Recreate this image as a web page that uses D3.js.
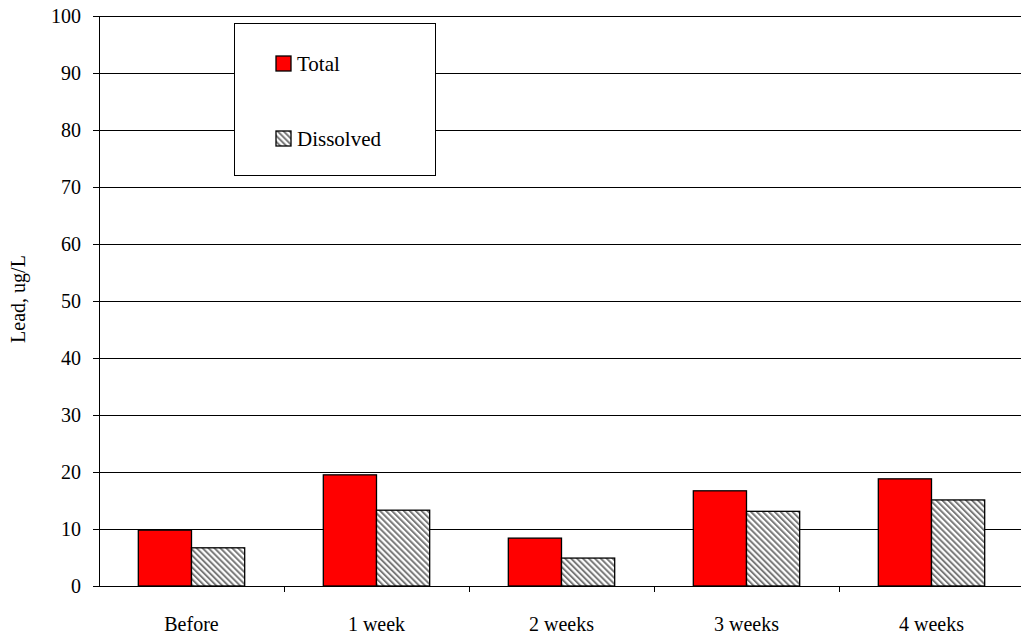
<!DOCTYPE html>
<html>
<head>
<meta charset="utf-8">
<script src="https://cdn.jsdelivr.net/npm/d3@7"></script>
</head>
<body style="margin:0">
<svg id="chart" width="1021" height="638"></svg>
<script>
// Lead sampling - total vs dissolved
const categories = ['Before', '1 week', '2 weeks', '3 weeks', '4 weeks'];
const seriesNames = ['Total', 'Dissolved'];
const totalValues = [9.8, 19.5, 8.4, 16.7, 18.8];
const dissolvedValues = [6.7, 13.3, 4.9, 13.1, 15.1];
const yTicks = [0, 10, 20, 30, 40, 50, 60, 70, 80, 90, 100];

const width = 1021;
const height = 638;
const margin = { top: 16, right: -3, bottom: 52, left: 99 };
const chartWidth = width - margin.left - margin.right;
const chartHeight = height - margin.top - margin.bottom;

const svg = d3.select('#chart');

// hatch pattern for dissolved bars
const defs = svg.append('defs');
const pat = defs.append('pattern')
  .attr('id', 'hatch')
  .attr('patternUnits', 'userSpaceOnUse')
  .attr('width', 4.2)
  .attr('height', 4.2)
  .attr('patternTransform', 'rotate(-45)');
pat.append('rect')
  .attr('width', 4.2)
  .attr('height', 4.2)
  .attr('fill', '#fff');
pat.append('line')
  .attr('x1', 1).attr('y1', 0)
  .attr('x2', 1).attr('y2', 4.2)
  .attr('stroke', '#7a7a7a')
  .attr('stroke-width', 2);

const g = svg.append('g')
  .attr('transform', `translate(${margin.left},${margin.top})`);

const x0 = d3.scaleBand()
  .domain(categories)
  .range([0, chartWidth])
  .paddingInner(0.425)
  .paddingOuter(0.2125);

const x1 = d3.scaleBand()
  .domain(seriesNames)
  .range([0, x0.bandwidth()]);

const y = d3.scaleLinear()
  .domain([0, 100])
  .range([chartHeight, 0]);

// grid lines
g.append('g')
  .selectAll('line')
  .data(yTicks.filter(d => d > 0))
  .enter()
  .append('line')
  .attr('x1', 0)
  .attr('x2', chartWidth)
  .attr('y1', d => Math.round(y(d)) + 0.5)
  .attr('y2', d => Math.round(y(d)) + 0.5)
  .attr('stroke', '#000');

// bars
const rows = categories.map((c, i) => ({
  cat: c,
  values: [
    { key: 'Total', value: totalValues[i] },
    { key: 'Dissolved', value: dissolvedValues[i] }
  ]
}));

const groups = g.selectAll('.grp')
  .data(rows)
  .enter()
  .append('g')
  .attr('transform', d => `translate(${x0(d.cat)},0)`);

groups.selectAll('rect')
  .data(d => d.values)
  .enter()
  .append('rect')
  .attr('x', d => x1(d.key))
  .attr('y', d => y(d.value))
  .attr('width', x1.bandwidth())
  .attr('height', d => chartHeight - y(d.value))
  .attr('fill', d => d.key === 'Total' ? '#ff0000' : 'url(#hatch)')
  .attr('stroke', '#000')
  .attr('stroke-width', 1.3);

// y axis: ticks from d3, labels drawn as plain text
const yAxis = g.append('g')
  .call(d3.axisLeft(y).tickValues(yTicks).tickSize(6).tickFormat(''));
yAxis.select('.domain').attr('stroke', '#000').attr('d', `M0.5,0V${chartHeight}`);

g.append('g')
  .selectAll('text')
  .data(yTicks)
  .enter()
  .append('text')
  .attr('x', -18)
  .attr('y', d => y(d) + 7)
  .attr('text-anchor', 'end')
  .attr('font-family', 'Liberation Serif')
  .attr('font-size', 20)
  .text(d => d);

// x axis
const xAxis = g.append('g')
  .attr('transform', `translate(0,${chartHeight})`);
xAxis.append('line')
  .attr('x1', 0).attr('x2', chartWidth)
  .attr('y1', 0.5).attr('y2', 0.5)
  .attr('stroke', '#000');
xAxis.selectAll('.tick-line')
  .data(categories.slice(1))
  .enter()
  .append('line')
  .attr('x1', d => Math.round(x0(d) - x0.step() * x0.paddingInner() / 2) + 0.5)
  .attr('x2', d => Math.round(x0(d) - x0.step() * x0.paddingInner() / 2) + 0.5)
  .attr('y1', 0)
  .attr('y2', 6)
  .attr('stroke', '#000');
xAxis.selectAll('.lbl')
  .data(categories)
  .enter()
  .append('text')
  .attr('x', d => x0(d) + x0.bandwidth() / 2)
  .attr('y', 45)
  .attr('text-anchor', 'middle')
  .attr('font-family', 'Liberation Serif')
  .attr('font-size', 20)
  .text(d => d);

// y axis title
svg.append('text')
  .attr('transform', `translate(25,${margin.top + chartHeight / 2 - 2}) rotate(-90)`)
  .attr('text-anchor', 'middle')
  .attr('font-family', 'Liberation Serif')
  .attr('font-size', 20)
  .text('Lead, ug/L');

// legend
const legend = svg.append('g')
  .attr('transform', 'translate(234,23)');
legend.append('rect')
  .attr('x', 0.5).attr('y', 0.5)
  .attr('width', 201).attr('height', 152)
  .attr('fill', '#fff')
  .attr('stroke', '#000');

const legendItems = legend.selectAll('.item')
  .data(seriesNames)
  .enter()
  .append('g')
  .attr('transform', (d, i) => `translate(42,${33 + i * 75})`);
legendItems.append('rect')
  .attr('width', 15).attr('height', 15)
  .attr('fill', d => d === 'Total' ? '#ff0000' : 'url(#hatch)')
  .attr('stroke', '#000')
  .attr('stroke-width', 1.3);
legendItems.append('text')
  .attr('x', 21)
  .attr('y', 15)
  .attr('font-family', 'Liberation Serif')
  .attr('font-size', 21)
  .text(d => d);
</script>
</body>
</html>
